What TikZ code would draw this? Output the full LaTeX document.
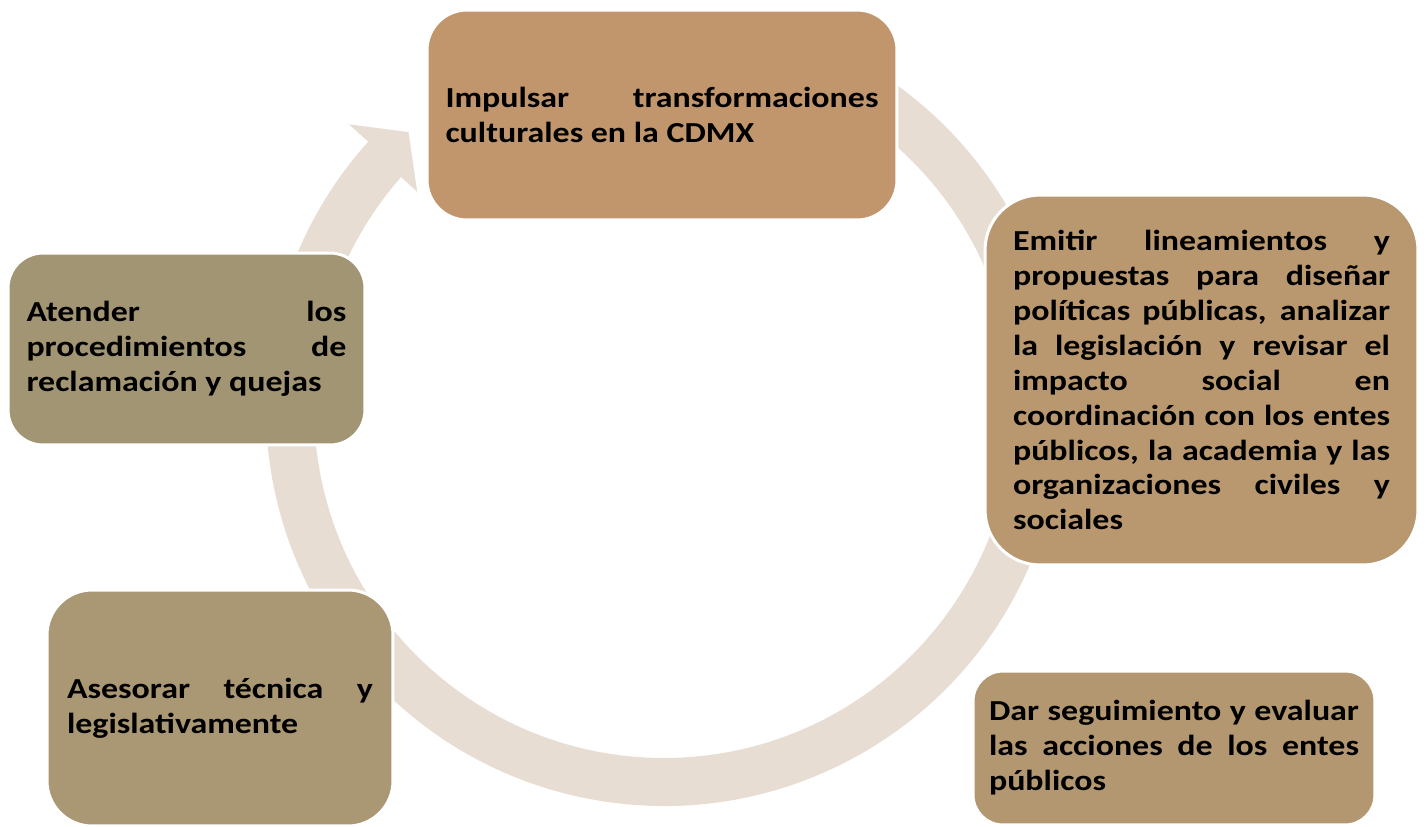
\documentclass[tikz,border=0pt]{standalone}
\usepackage{fontspec}
\setmainfont{Carlito}[FakeStretch=1.17]
\definecolor{ringc}{HTML}{E8DDD3}
\definecolor{impulsarc}{HTML}{C1966C}
\definecolor{emitirc}{HTML}{B9986F}
\definecolor{atenderc}{HTML}{A29574}
\definecolor{asesorarc}{HTML}{AA9773}
\definecolor{darc}{HTML}{B39770}
\tolerance=10000
\hyphenpenalty=10000
\begin{document}
\begin{tikzpicture}[x=0.02cm,y=0.02cm,
    stage/.style={draw=white, line width=1.7pt, align=justify, inner sep=0pt, text=black,
      font=\bfseries\fontsize{16.5}{19.9}\selectfont}]
    \useasboundingbox (0,0) rectangle (1426,-827);
    \coordinate (c) at (664,-408);
    \fill [ringc, shift={(c)}] (80:398) arc[start angle=80, end angle=-222, radius=398]
        -- (138:424) -- (132.8:376) -- (138.8:328) -- (-221.3:350)
        arc[start angle=-221.3, end angle=80, radius=350] -- cycle;
    \node [stage, fill=impulsarc, rounded corners=0.8cm, minimum width=9.4cm, minimum height=4.2cm, text width=8.66cm] (impulsar) at (662,-115)
        {Impulsar transformaciones\linebreak culturales en la CDMX};
    \node [stage, fill=emitirc, rounded corners=1.1cm, minimum width=8.66cm, minimum height=7.4cm, text width=7.54cm] (emitir) at (1201.5,-380)
        {Emitir lineamientos y\linebreak propuestas para diseñar\linebreak políticas públicas, analizar\linebreak la legislación y revisar el\linebreak impacto social en\linebreak coordinación con los entes\linebreak públicos, la academia y las\linebreak organizaciones civiles y\linebreak sociales};
    \node [stage, fill=atenderc, rounded corners=0.7cm, minimum width=7.14cm, minimum height=3.84cm, text width=6.4cm] (atender) at (186.5,-349)
        {Atender los\linebreak procedimientos de\linebreak reclamación y quejas};
    \node [stage, fill=asesorarc, rounded corners=0.9cm, minimum width=6.92cm, minimum height=4.72cm, text width=6.12cm] (asesorar) at (220,-708)
        {Asesorar técnica y\linebreak legislativamente};
    \node [stage, fill=darc, rounded corners=0.6cm, minimum width=8.04cm, minimum height=3.08cm, text width=7.4cm] (dar) at (1174,-748)
        {Dar seguimiento y evaluar\linebreak las acciones de los entes\linebreak públicos};
\end{tikzpicture}
\end{document}
